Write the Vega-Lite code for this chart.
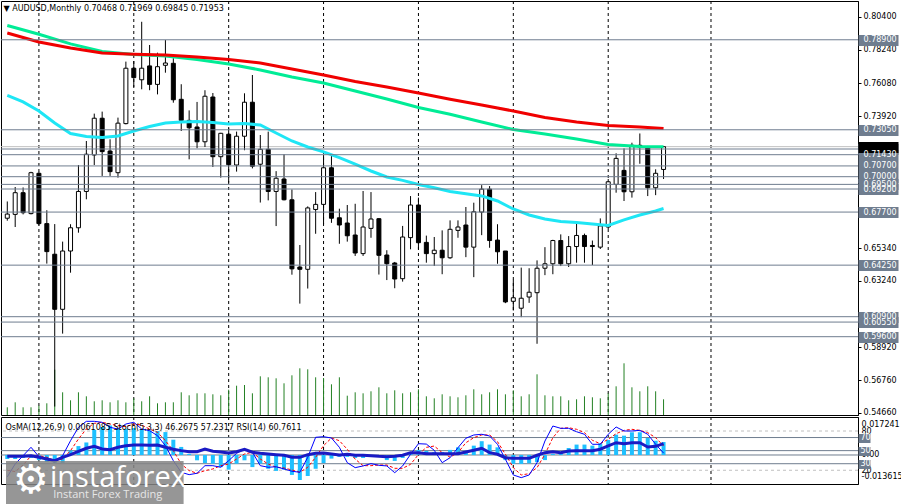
{
  "$schema": "https://vega.github.io/schema/vega-lite/v6.json",
  "padding": 0,
  "background": "white",
  "spacing": 2,
  "bounds": "flush",
  "config": {
    "view": {"stroke": "black", "strokeWidth": 1},
    "font": "DejaVu Sans",
    "axis": {"labelFont": "DejaVu Sans", "labelFontSize": 8, "labelColor": "black"},
    "title": {"font": "DejaVu Sans", "fontSize": 8, "fontWeight": "normal", "color": "black", "anchor": "start"}
  },
  "datasets": {
    "bars": [
      {"i":0,"o":0.6730,"h":0.6839,"l":0.6714,"c":0.6757,"v":7.7,"os":-0.0019,"st":10,"sg":20,"rs":41.3,"r":0.7934,"g":0.7983,"cy":0.7528},
      {"i":1,"o":0.6755,"h":0.6933,"l":0.6673,"c":0.6896,"v":12.7,"os":-0.0019,"st":29.6,"sg":18,"rs":41.3},
      {"i":2,"o":0.6896,"h":0.6930,"l":0.6755,"c":0.6766,"v":7.7,"os":-0.0014,"st":42.3,"sg":28,"rs":41.3,"cy":0.7486},
      {"i":3,"o":0.6760,"h":0.7032,"l":0.6755,"c":0.7026,"v":7.7,"os":-0.0014,"st":55.1,"sg":42,"rs":42.3},
      {"i":4,"o":0.7022,"h":0.7032,"l":0.6683,"c":0.6695,"v":9.3,"os":-0.0024,"st":40.8,"sg":42.3,"rs":39.8,"r":0.7876,"g":0.7926,"cy":0.7427},
      {"i":5,"o":0.6695,"h":0.6782,"l":0.6435,"c":0.6513,"v":11.7,"os":-0.0033,"st":37.2,"sg":39.8,"rs":37.2},
      {"i":6,"o":0.6496,"h":0.6692,"l":0.5506,"c":0.6138,"v":45.3,"os":-0.0038,"st":32.2,"sg":34.7,"rs":34.7,"cy":0.7349},
      {"i":7,"o":0.6138,"h":0.6578,"l":0.5980,"c":0.6517,"v":22.7,"os":-0.0038,"st":42.3,"sg":37.2,"rs":39.8},
      {"i":8,"o":0.6517,"h":0.6691,"l":0.6376,"c":0.6668,"v":14.7,"os":0.0022,"st":65.2,"sg":50,"rs":43.8,"r":0.7837,"g":0.7863,"cy":0.7281},
      {"i":9,"o":0.6668,"h":0.7076,"l":0.6636,"c":0.6904,"v":22.7,"os":0.0042,"st":85.6,"sg":67.8,"rs":49},
      {"i":10,"o":0.6904,"h":0.7232,"l":0.6853,"c":0.7146,"v":18.7,"os":0.0059,"st":94.8,"sg":83,"rs":53.6,"cy":0.7261},
      {"i":11,"o":0.7141,"h":0.7410,"l":0.7076,"c":0.7380,"v":13.7,"os":0.0118,"st":94.8,"sg":91.7,"rs":56.6},
      {"i":12,"o":0.7380,"h":0.7423,"l":0.7005,"c":0.7163,"v":14.7,"os":0.0132,"st":93.3,"sg":93.3,"rs":52.5,"r":0.7804,"g":0.7814,"cy":0.7255},
      {"i":13,"o":0.7167,"h":0.7243,"l":0.7005,"c":0.7033,"v":12.7,"os":0.0139,"st":85.6,"sg":90.7,"rs":51.5},
      {"i":14,"o":0.7026,"h":0.7384,"l":0.6994,"c":0.7348,"v":14.7,"os":0.0123,"st":83,"sg":88.1,"rs":55.1,"cy":0.7265},
      {"i":15,"o":0.7345,"h":0.7748,"l":0.7340,"c":0.7705,"v":12.7,"os":0.0123,"st":90.7,"sg":86.6,"rs":57.6},
      {"i":16,"o":0.7705,"h":0.7752,"l":0.7583,"c":0.7644,"v":16.7,"os":0.0127,"st":93.3,"sg":90.7,"rs":58.6,"r":0.7796,"g":0.7794,"cy":0.7297},
      {"i":17,"o":0.7630,"h":0.8007,"l":0.7568,"c":0.7705,"v":13.7,"os":0.0121,"st":83,"sg":89.1,"rs":58.6},
      {"i":18,"o":0.7720,"h":0.7856,"l":0.7562,"c":0.7600,"v":18.7,"os":0.0116,"st":80.5,"sg":83,"rs":58.1,"cy":0.7326},
      {"i":19,"o":0.7600,"h":0.7806,"l":0.7535,"c":0.7715,"v":11.7,"os":0.0113,"st":72.8,"sg":78,"rs":58.6},
      {"i":20,"o":0.7724,"h":0.7888,"l":0.7676,"c":0.7739,"v":12.7,"os":0.0108,"st":57.6,"sg":65.2,"rs":55.1,"r":0.7791,"g":0.7785,"cy":0.7349},
      {"i":21,"o":0.7737,"h":0.7770,"l":0.7481,"c":0.7500,"v":12.7,"os":0.0072,"st":34.7,"sg":50,"rs":52.1},
      {"i":22,"o":0.7503,"h":0.7601,"l":0.7297,"c":0.7366,"v":22.7,"os":0.0038,"st":16.9,"sg":29.6,"rs":50,"cy":0.7356},
      {"i":23,"o":0.7366,"h":0.7431,"l":0.7113,"c":0.7318,"v":19.7,"os":0.0005,"st":13.3,"sg":19.4,"rs":48.4},
      {"i":24,"o":0.7323,"h":0.7486,"l":0.7185,"c":0.7227,"v":21.7,"os":-0.0025,"st":15.4,"sg":15.4,"rs":48.4,"r":0.7778,"g":0.7762,"cy":0.7359},
      {"i":25,"o":0.7227,"h":0.7562,"l":0.7193,"c":0.7523,"v":21.7,"os":-0.0038,"st":27,"sg":19.4,"rs":52.5},
      {"i":26,"o":0.7518,"h":0.7544,"l":0.7063,"c":0.7130,"v":20.7,"os":-0.0041,"st":27,"sg":22,"rs":49,"cy":0.7352},
      {"i":27,"o":0.7130,"h":0.7285,"l":0.6994,"c":0.7282,"v":19.7,"os":-0.0057,"st":24.6,"sg":27,"rs":47.9},
      {"i":28,"o":0.7276,"h":0.7315,"l":0.6961,"c":0.7078,"v":25.3,"os":-0.0069,"st":34.7,"sg":29.6,"rs":46.4,"r":0.7762,"g":0.7733,"cy":0.7343},
      {"i":29,"o":0.7076,"h":0.7293,"l":0.7033,"c":0.7263,"v":29.3,"os":-0.0041,"st":45.9,"sg":37.2,"rs":48.4},
      {"i":30,"o":0.7263,"h":0.7542,"l":0.7172,"c":0.7484,"v":30,"os":-0.0025,"st":52.5,"sg":44.9,"rs":52.1,"cy":0.7345},
      {"i":31,"o":0.7484,"h":0.7661,"l":0.7054,"c":0.7068,"v":21.7,"os":-0.0057,"st":47.5,"sg":47.5,"rs":47.5},
      {"i":32,"o":0.7081,"h":0.7271,"l":0.6832,"c":0.7178,"v":38.7,"os":-0.0041,"st":27,"sg":37.2,"rs":45.9,"r":0.7739,"g":0.7694,"cy":0.7336},
      {"i":33,"o":0.7178,"h":0.7293,"l":0.6846,"c":0.6904,"v":37.7,"os":-0.0065,"st":24.6,"sg":29.6,"rs":44.9},
      {"i":34,"o":0.6904,"h":0.7036,"l":0.6679,"c":0.6990,"v":36.7,"os":-0.0075,"st":25.4,"sg":24.6,"rs":43.8,"cy":0.7284},
      {"i":35,"o":0.6985,"h":0.7146,"l":0.6846,"c":0.6850,"v":31.7,"os":-0.0069,"st":22,"sg":23.5,"rs":42.9},
      {"i":36,"o":0.6850,"h":0.6917,"l":0.6363,"c":0.6401,"v":39.7,"os":-0.0094,"st":18.5,"sg":20.5,"rs":39.8,"r":0.7700,"g":0.7648,"cy":0.7232},
      {"i":37,"o":0.6413,"h":0.6556,"l":0.6175,"c":0.6398,"v":46.7,"os":-0.0118,"st":16.9,"sg":16.9,"rs":39.8},
      {"i":38,"o":0.6398,"h":0.6807,"l":0.6273,"c":0.6797,"v":45.7,"os":-0.0099,"st":39.8,"sg":24.6,"rs":43.8,"cy":0.7193},
      {"i":39,"o":0.6787,"h":0.6900,"l":0.6629,"c":0.6820,"v":37.7,"os":-0.0065,"st":70.4,"sg":39.8,"rs":45.9},
      {"i":40,"o":0.6820,"h":0.7142,"l":0.6691,"c":0.7058,"v":37,"os":-0.0038,"st":71.3,"sg":57.6,"rs":46.4,"r":0.7661,"g":0.7609,"cy":0.7161},
      {"i":41,"o":0.7058,"h":0.7138,"l":0.6700,"c":0.6730,"v":30.7,"os":-0.0017,"st":69.3,"sg":69.3,"rs":44.9},
      {"i":42,"o":0.6733,"h":0.6792,"l":0.6564,"c":0.6686,"v":37.7,"os":-0.0009,"st":55.1,"sg":65.2,"rs":43.3,"cy":0.7124},
      {"i":43,"o":0.6699,"h":0.6816,"l":0.6578,"c":0.6616,"v":19.3,"os":-0.0009,"st":31.6,"sg":52,"rs":44.4},
      {"i":44,"o":0.6621,"h":0.6824,"l":0.6485,"c":0.6504,"v":22.7,"os":-0.0014,"st":24,"sg":37,"rs":42.9,"r":0.7619,"g":0.7557,"cy":0.7081},
      {"i":45,"o":0.6500,"h":0.6907,"l":0.6485,"c":0.6673,"v":21.7,"os":-0.0014,"st":26.6,"sg":27,"rs":42.9},
      {"i":46,"o":0.6664,"h":0.6900,"l":0.6603,"c":0.6725,"v":23.7,"os":-0.0005,"st":30.1,"sg":27,"rs":42.3,"cy":0.7037},
      {"i":47,"o":0.6727,"h":0.6730,"l":0.6364,"c":0.6489,"v":27.7,"os":-0.0005,"st":27.6,"sg":28,"rs":41.3},
      {"i":48,"o":0.6491,"h":0.6522,"l":0.6328,"c":0.6434,"v":21.7,"os":-0.0024,"st":26.6,"sg":28,"rs":40.8,"r":0.7583,"g":0.7505,"cy":0.6998},
      {"i":49,"o":0.6439,"h":0.6446,"l":0.6275,"c":0.6335,"v":24.7,"os":-0.0028,"st":16.3,"sg":23,"rs":41.3},
      {"i":50,"o":0.6337,"h":0.6680,"l":0.6318,"c":0.6608,"v":21.7,"os":-0.0014,"st":26.6,"sg":23,"rs":42.9,"cy":0.6976},
      {"i":51,"o":0.6604,"h":0.6874,"l":0.6528,"c":0.6816,"v":22.7,"os":0.0009,"st":44.4,"sg":29,"rs":46.9},
      {"i":52,"o":0.6816,"h":0.6864,"l":0.6528,"c":0.6571,"v":25.7,"os":0.0024,"st":60.6,"sg":44,"rs":46.9,"r":0.7544,"g":0.7450,"cy":0.6949},
      {"i":53,"o":0.6573,"h":0.6617,"l":0.6441,"c":0.6500,"v":18.7,"os":0.0019,"st":60,"sg":55,"rs":45.4},
      {"i":54,"o":0.6500,"h":0.6608,"l":0.6420,"c":0.6522,"v":16.7,"os":0.0014,"st":50.5,"sg":57,"rs":45.4,"cy":0.6928},
      {"i":55,"o":0.6522,"h":0.6651,"l":0.6366,"c":0.6473,"v":20.7,"os":0.0014,"st":31.6,"sg":47,"rs":45.4},
      {"i":56,"o":0.6473,"h":0.6716,"l":0.6466,"c":0.6658,"v":18.7,"os":0.0024,"st":39.2,"sg":40,"rs":45.4,"r":0.7503,"g":0.7406,"cy":0.6904},
      {"i":57,"o":0.6651,"h":0.6716,"l":0.6603,"c":0.6673,"v":17.7,"os":0.0036,"st":54.5,"sg":46.9,"rs":45.4},
      {"i":58,"o":0.6686,"h":0.6803,"l":0.6477,"c":0.6542,"v":19.7,"os":0.0020,"st":68.9,"sg":62.1,"rs":47.9,"cy":0.6889},
      {"i":59,"o":0.6542,"h":0.6831,"l":0.6347,"c":0.6772,"v":25.7,"os":0.0044,"st":73.9,"sg":69.8,"rs":50.5},
      {"i":60,"o":0.6770,"h":0.6945,"l":0.6620,"c":0.6919,"v":20.7,"os":0.0065,"st":75,"sg":73.9,"rs":53.6,"r":0.7466,"g":0.7356,"cy":0.6875},
      {"i":61,"o":0.6919,"h":0.6939,"l":0.6538,"c":0.6585,"v":22.7,"os":0.0049,"st":72.4,"sg":74,"rs":46.9},
      {"i":62,"o":0.6588,"h":0.6691,"l":0.6434,"c":0.6512,"v":25.7,"os":0.0036,"st":59.7,"sg":63.7,"rs":44.4,"cy":0.6842},
      {"i":63,"o":0.6517,"h":0.6517,"l":0.6178,"c":0.6186,"v":20.7,"os":-0.0024,"st":36.8,"sg":44.4,"rs":39.2},
      {"i":64,"o":0.6190,"h":0.6330,"l":0.6130,"c":0.6213,"v":24.7,"os":-0.0042,"st":12.8,"sg":24,"rs":38.3,"r":0.7427,"g":0.7307,"cy":0.6790},
      {"i":65,"o":0.6145,"h":0.6409,"l":0.6087,"c":0.6210,"v":18.7,"os":-0.0042,"st":8.7,"sg":12.8,"rs":38.3},
      {"i":66,"o":0.6218,"h":0.6405,"l":0.6180,"c":0.6249,"v":20.7,"os":-0.0039,"st":12.8,"sg":14.8,"rs":38.3,"cy":0.6751},
      {"i":67,"o":0.6246,"h":0.6456,"l":0.5914,"c":0.6405,"v":40.7,"os":-0.0034,"st":31.6,"sg":24,"rs":42.9},
      {"i":68,"o":0.6405,"h":0.6542,"l":0.6360,"c":0.6434,"v":19.7,"os":-0.0024,"st":64.7,"sg":44.4,"rs":46.9,"r":0.7385,"g":0.7278,"cy":0.6725},
      {"i":69,"o":0.6434,"h":0.6590,"l":0.6366,"c":0.6585,"v":18.7,"os":0.0005,"st":87.6,"sg":69.8,"rs":48.4},
      {"i":70,"o":0.6585,"h":0.6625,"l":0.6419,"c":0.6434,"v":18.7,"os":0.0013,"st":84.1,"sg":84.1,"rs":46.9,"cy":0.6709},
      {"i":71,"o":0.6434,"h":0.6614,"l":0.6413,"c":0.6546,"v":14.7,"os":0.0033,"st":84.1,"sg":85,"rs":49.5},
      {"i":72,"o":0.6546,"h":0.6712,"l":0.6441,"c":0.6618,"v":15.7,"os":0.0049,"st":78.9,"sg":82.6,"rs":50,"r":0.7356,"g":0.7245,"cy":0.6702},
      {"i":73,"o":0.6618,"h":0.6630,"l":0.6441,"c":0.6546,"v":18.7,"os":0.0049,"st":75,"sg":77.4,"rs":50},
      {"i":74,"o":0.6553,"h":0.6585,"l":0.6426,"c":0.6546,"v":17.7,"os":0.0044,"st":59.7,"sg":65.8,"rs":50,"cy":0.6693},
      {"i":75,"o":0.6542,"h":0.6729,"l":0.6530,"c":0.6680,"v":16.7,"os":0.0055,"st":59.7,"sg":60.6,"rs":52.1},
      {"i":76,"o":0.6673,"h":0.6985,"l":0.6660,"c":0.6967,"v":21.7,"os":0.0071,"st":75,"sg":67.3,"rs":57.1,"r":0.7333,"g":0.7209,"cy":0.6683},
      {"i":77,"o":0.6950,"h":0.7152,"l":0.6896,"c":0.7119,"v":28.7,"os":0.0096,"st":86.1,"sg":75.9,"rs":62.1},
      {"i":78,"o":0.7041,"h":0.7184,"l":0.6842,"c":0.6902,"v":51.7,"os":0.0091,"st":80,"sg":81,"rs":60.6,"cy":0.6719},
      {"i":79,"o":0.6902,"h":0.7221,"l":0.6864,"c":0.7204,"v":27.7,"os":0.0107,"st":80,"sg":82.6,"rs":62.1},
      {"i":80,"o":0.7204,"h":0.7281,"l":0.7084,"c":0.7193,"v":23.7,"os":0.0107,"st":81,"sg":81,"rs":62.1,"r":0.7323,"g":0.7196,"cy":0.6751},
      {"i":81,"o":0.7193,"h":0.7200,"l":0.6874,"c":0.6928,"v":28.7,"os":0.0080,"st":75,"sg":77.4,"rs":55.6},
      {"i":82,"o":0.6928,"h":0.7048,"l":0.6880,"c":0.7022,"v":23.7,"os":0.0067,"st":59.7,"sg":69.8,"rs":56.6,"cy":0.6777},
      {"i":83,"o":0.7047,"h":0.7197,"l":0.6985,"c":0.7195,"v":15.7,"os":0.0061,"st":46.3,"sg":57.2,"rs":60.8,"r":0.7313,"g":0.7195,"cy":0.6793}
    ],
    "grid": [{"i":4},{"i":16},{"i":28},{"i":40},{"i":52},{"i":64},{"i":76},{"i":89}],
    "levels": [{"p":0.789},{"p":0.7305},{"p":0.718},{"p":0.7143},{"p":0.707},{"p":0.7},{"p":0.695},{"p":0.692},{"p":0.677},{"p":0.6425},{"p":0.609},{"p":0.6055},{"p":0.596}],
    "ilevels": [{"v":80,"d":1},{"v":20,"d":1},{"v":70,"d":0},{"v":50,"d":0},{"v":30,"d":0}]
  },
  "vconcat": [
    {
      "width": 857,
      "height": 414,
      "title": {"text": "▼  AUDUSD,Monthly  0.70468 0.71969 0.69845 0.71953", "offset": -12, "dx": 3},
      "resolve": {"scale": {"y": "independent"}},
      "layer": [
        {
          "data": {"name": "grid"},
          "mark": {"type": "rule", "color": "black", "strokeDash": [3, 3], "strokeWidth": 1},
          "encoding": {
            "x": {"field": "i", "type": "quantitative", "scale": {"domain": [-0.1625, 106.96], "nice": false, "zero": false}, "axis": null}
          }
        },
        {
          "data": {"name": "bars"},
          "mark": {"type": "rule", "color": "#238023", "strokeWidth": 1},
          "encoding": {
            "x": {"field": "i", "type": "quantitative", "scale": {"domain": [-0.1625, 106.96], "nice": false, "zero": false}, "axis": null},
            "y": {"field": "v", "type": "quantitative", "scale": {"domain": [0, 414], "nice": false}, "axis": null},
            "y2": {"datum": 0}
          }
        },
        {
          "data": {"values": [{"p": 0.71953}]},
          "mark": {"type": "rule", "color": "#c0c0c0"},
          "encoding": {
            "y": {"field": "p", "type": "quantitative", "scale": {"domain": [0.5451, 0.8142], "nice": false, "zero": false}, "axis": null}
          }
        },
        {
          "data": {"name": "bars"},
          "mark": {"type": "rule", "color": "black", "strokeWidth": 1},
          "encoding": {
            "x": {"field": "i", "type": "quantitative", "scale": {"domain": [-0.1625, 106.96], "nice": false, "zero": false}, "axis": null},
            "y": {
              "field": "l", "type": "quantitative",
              "scale": {"domain": [0.5451, 0.8142], "nice": false, "zero": false},
              "axis": {
                "orient": "right", "values": [0.804, 0.7824, 0.7608, 0.7392, 0.6534, 0.6324, 0.5892, 0.5676, 0.5466],
                "format": ".5f", "tickSize": 3, "tickColor": "black", "labelPadding": 2, "domainColor": "black",
                "grid": false, "title": null, "labelOverlap": false, "labelFlush": false, "labelBound": false
              }
            },
            "y2": {"field": "h"}
          }
        },
        {
          "data": {"name": "bars"},
          "mark": {"type": "bar", "size": 4, "stroke": "black", "strokeWidth": 1, "orient": "vertical"},
          "encoding": {
            "x": {"field": "i", "type": "quantitative", "scale": {"domain": [-0.1625, 106.96], "nice": false, "zero": false}, "axis": null},
            "y": {"field": "o", "type": "quantitative", "scale": {"domain": [0.5451, 0.8142], "nice": false, "zero": false}, "axis": null},
            "y2": {"field": "c"},
            "fill": {"condition": {"test": "datum.c >= datum.o", "value": "white"}, "value": "black"}
          }
        },
        {
          "data": {"name": "bars"},
          "mark": {"type": "line", "color": "#1ee6f5", "strokeWidth": 3, "invalid": "filter"},
          "encoding": {
            "x": {"field": "i", "type": "quantitative", "scale": {"domain": [-0.1625, 106.96], "nice": false, "zero": false}, "axis": null},
            "y": {"field": "cy", "type": "quantitative", "scale": {"domain": [0.5451, 0.8142], "nice": false, "zero": false}, "axis": null}
          }
        },
        {
          "data": {"name": "bars"},
          "mark": {"type": "line", "color": "#00ec96", "strokeWidth": 3, "invalid": "filter"},
          "encoding": {
            "x": {"field": "i", "type": "quantitative", "scale": {"domain": [-0.1625, 106.96], "nice": false, "zero": false}, "axis": null},
            "y": {"field": "g", "type": "quantitative", "scale": {"domain": [0.5451, 0.8142], "nice": false, "zero": false}, "axis": null}
          }
        },
        {
          "data": {"name": "bars"},
          "mark": {"type": "line", "color": "#f00000", "strokeWidth": 3, "invalid": "filter"},
          "encoding": {
            "x": {"field": "i", "type": "quantitative", "scale": {"domain": [-0.1625, 106.96], "nice": false, "zero": false}, "axis": null},
            "y": {"field": "r", "type": "quantitative", "scale": {"domain": [0.5451, 0.8142], "nice": false, "zero": false}, "axis": null}
          }
        },
        {
          "data": {"name": "levels"},
          "mark": {"type": "rule", "color": "#6f7d8f", "strokeWidth": 1},
          "encoding": {
            "y": {
              "field": "p", "type": "quantitative",
              "scale": {"domain": [0.5451, 0.8142], "nice": false, "zero": false},
              "axis": {
                "orient": "right",
                "values": [0.71953, 0.789, 0.7305, 0.718, 0.7143, 0.707, 0.7, 0.695, 0.692, 0.677, 0.6425, 0.609, 0.6055, 0.596],
                "format": ".5f",
                "labelExpr": "datum.value == 0.71953 || datum.value == 0.718 ? '' : datum.label",
                "tickSize": 40, "tickWidth": 11,
                "tickColor": {"condition": {"test": "datum.value == 0.71953", "value": "black"}, "value": "#6f7d8f"},
                "labelColor": "white", "labelPadding": -35, "domain": false,
                "grid": false, "title": null, "labelOverlap": false, "labelFlush": false, "labelBound": false
              }
            }
          }
        }
      ]
    },
    {
      "width": 857,
      "height": 67,
      "title": {"text": "OsMA(12,26,9) 0.0061085  Stoch(5,3,3) 46.2675 57.2317  RSI(14) 60.7611", "offset": -15, "dx": 5},
      "resolve": {"scale": {"y": "independent"}},
      "layer": [
        {
          "data": {"name": "grid"},
          "mark": {"type": "rule", "color": "black", "strokeDash": [3, 3], "strokeWidth": 1},
          "encoding": {
            "x": {
              "field": "i", "type": "quantitative",
              "scale": {"domain": [-0.1625, 106.96], "nice": false, "zero": false},
              "axis": {
                "orient": "bottom", "values": [0, 8, 16, 24, 32, 40, 48, 56, 64, 72, 80],
                "labelExpr": "timeFormat(datetime(2019, 8 + datum.value, 1), '%-d %b %Y')",
                "labelAlign": "left", "tickSize": 3, "tickColor": "black", "domainColor": "black", "labelPadding": 2,
                "grid": false, "title": null, "labelOverlap": false, "labelFlush": false, "labelBound": false
              }
            }
          }
        },
        {
          "data": {"name": "ilevels"},
          "transform": [{"filter": "datum.d == 1"}],
          "mark": {"type": "rule", "color": "#c0c0c0", "strokeDash": [3, 3]},
          "encoding": {
            "y": {
              "field": "v", "type": "quantitative",
              "scale": {"domain": [-1, 101.4], "nice": false, "zero": false},
              "axis": {
                "orient": "right", "values": [90.2, 80, 43.4, 20, 9.8],
                "labelExpr": "datum.value == 90.2 ? '0.017241' : datum.value == 43.4 ? '0.00' : datum.value == 9.8 ? '-0.013615' : datum.label",
                "ticks": false, "labelPadding": 3, "domainColor": "black",
                "grid": false, "title": null, "labelOverlap": false, "labelFlush": false, "labelBound": false
              }
            }
          }
        },
        {
          "data": {"name": "ilevels"},
          "transform": [{"filter": "datum.d == 0"}],
          "mark": {"type": "rule", "color": "#6f7d8f"},
          "encoding": {
            "y": {
              "field": "v", "type": "quantitative",
              "scale": {"domain": [-1, 101.4], "nice": false, "zero": false},
              "axis": {
                "orient": "right", "values": [70, 50, 30], "tickSize": 12, "tickWidth": 9, "tickColor": "#6f7d8f",
                "labelColor": "white", "labelPadding": -10, "domain": false,
                "grid": false, "title": null, "labelOverlap": false, "labelFlush": false, "labelBound": false
              }
            }
          }
        },
        {
          "data": {"values": [{"z": 0}]},
          "mark": {"type": "rule", "color": "#6f7d8f"},
          "encoding": {
            "y": {"field": "z", "type": "quantitative", "scale": {"domain": [-0.01367, 0.0179], "nice": false, "zero": false}, "axis": null}
          }
        },
        {
          "data": {"name": "bars"},
          "mark": {"type": "bar", "size": 4, "color": "#1ec0ff", "orient": "vertical"},
          "encoding": {
            "x": {"field": "i", "type": "quantitative", "scale": {"domain": [-0.1625, 106.96], "nice": false, "zero": false}, "axis": null},
            "y": {"field": "os", "type": "quantitative", "scale": {"domain": [-0.01367, 0.0179], "nice": false, "zero": false}, "axis": null},
            "y2": {"datum": 0}
          }
        },
        {
          "data": {"name": "bars"},
          "mark": {"type": "line", "color": "#ff0000", "strokeWidth": 1, "strokeDash": [3, 2]},
          "encoding": {
            "x": {"field": "i", "type": "quantitative", "scale": {"domain": [-0.1625, 106.96], "nice": false, "zero": false}, "axis": null},
            "y": {"field": "sg", "type": "quantitative", "scale": {"domain": [-1, 101.4], "nice": false, "zero": false}, "axis": null}
          }
        },
        {
          "data": {"name": "bars"},
          "mark": {"type": "line", "color": "#0000ff", "strokeWidth": 1},
          "encoding": {
            "x": {"field": "i", "type": "quantitative", "scale": {"domain": [-0.1625, 106.96], "nice": false, "zero": false}, "axis": null},
            "y": {"field": "st", "type": "quantitative", "scale": {"domain": [-1, 101.4], "nice": false, "zero": false}, "axis": null}
          }
        },
        {
          "data": {"name": "bars"},
          "mark": {"type": "line", "color": "#1a1ac4", "strokeWidth": 3},
          "encoding": {
            "x": {"field": "i", "type": "quantitative", "scale": {"domain": [-0.1625, 106.96], "nice": false, "zero": false}, "axis": null},
            "y": {"field": "rs", "type": "quantitative", "scale": {"domain": [-1, 101.4], "nice": false, "zero": false}, "axis": null}
          }
        },
        {
          "data": {"values": [{}]},
          "mark": {"type": "rect", "color": "#858585", "opacity": 0.86},
          "encoding": {
            "x": {"datum": -0.1625, "type": "quantitative", "scale": {"domain": [-0.1625, 106.96], "nice": false, "zero": false}, "axis": null},
            "x2": {"datum": 22.3},
            "y": {"datum": 34.2, "type": "quantitative", "scale": {"domain": [-1, 101.4], "nice": false, "zero": false}, "axis": null},
            "y2": {"datum": -33}
          }
        },
        {
          "data": {"values": [{}]},
          "mark": {"type": "text", "text": "⚙", "fontSize": 40, "color": "white", "font": "DejaVu Sans", "align": "center", "baseline": "middle"},
          "encoding": {
            "x": {"datum": 3, "type": "quantitative", "scale": {"domain": [-0.1625, 106.96], "nice": false, "zero": false}, "axis": null},
            "y": {"datum": 4, "type": "quantitative", "scale": {"domain": [-1, 101.4], "nice": false, "zero": false}, "axis": null}
          }
        },
        {
          "data": {"values": [{}]},
          "mark": {"type": "text", "text": "instaforex", "fontSize": 29, "color": "white", "font": "Open Sans", "align": "left", "baseline": "middle"},
          "encoding": {
            "x": {"datum": 5.4, "type": "quantitative", "scale": {"domain": [-0.1625, 106.96], "nice": false, "zero": false}, "axis": null},
            "y": {"datum": 8, "type": "quantitative", "scale": {"domain": [-1, 101.4], "nice": false, "zero": false}, "axis": null}
          }
        },
        {
          "data": {"values": [{}]},
          "mark": {"type": "text", "text": "Instant Forex Trading", "fontSize": 11, "color": "#e6e6e6", "font": "Open Sans", "align": "left", "baseline": "middle"},
          "encoding": {
            "x": {"datum": 5.8, "type": "quantitative", "scale": {"domain": [-0.1625, 106.96], "nice": false, "zero": false}, "axis": null},
            "y": {"datum": -18.5, "type": "quantitative", "scale": {"domain": [-1, 101.4], "nice": false, "zero": false}, "axis": null}
          }
        }
      ]
    }
  ]
}
